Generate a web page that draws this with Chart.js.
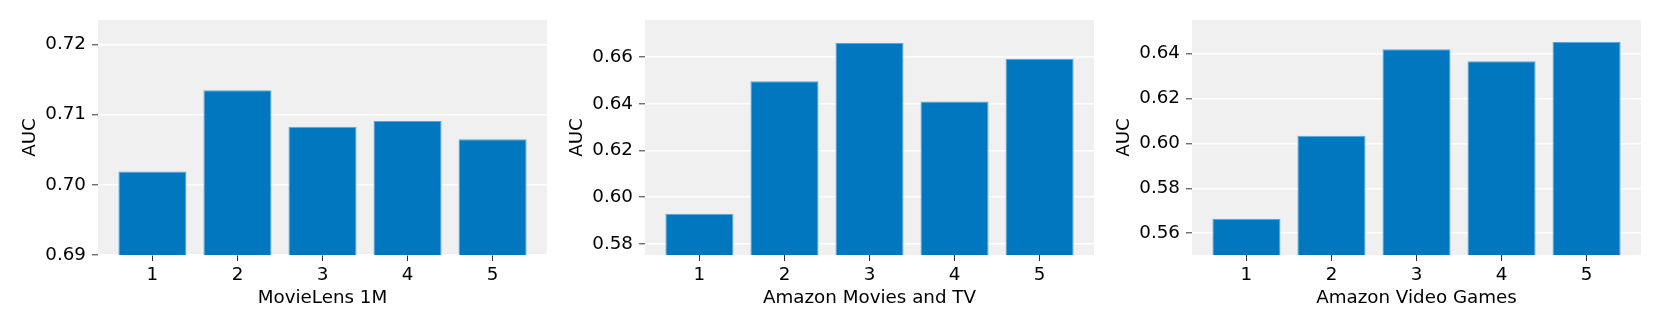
<!DOCTYPE html>
<html>
<head>
<meta charset="utf-8">
<script src="https://cdn.jsdelivr.net/npm/chart.js@4"></script>
<style>
  html, body { margin: 0; padding: 0; background: #fff; }
  #wrap { position: relative; width: 1661px; height: 332px; }
  .panel { position: absolute; top: 0; width: 547px; height: 332px; }
</style>
</head>
<body>
<div id="wrap">
  <div class="panel" style="left:0px"><canvas id="c1"></canvas></div>
  <div class="panel" style="left:547px"><canvas id="c2"></canvas></div>
  <div class="panel" style="left:1094px"><canvas id="c3"></canvas></div>
</div>
<script>
// data
const categories = [1, 2, 3, 4, 5];
const ml1m = [0.7019, 0.7135, 0.7083, 0.7091, 0.7065];
const moviesTv = [0.5929, 0.6497, 0.6660, 0.6410, 0.6593];
const videoGames = [0.5665, 0.6034, 0.6420, 0.6366, 0.6452];
const ml1mTicks = [0.69, 0.70, 0.71, 0.72];
const moviesTvTicks = [0.58, 0.60, 0.62, 0.64, 0.66];
const videoGamesTicks = [0.56, 0.58, 0.60, 0.62, 0.64];

const font = { family: "'DejaVu Sans', sans-serif", size: 18.3 };
Chart.defaults.font.family = font.family;
Chart.defaults.font.size = font.size;
Chart.defaults.color = '#000';

// grey plot background
const bgPlugin = {
  id: 'plotBg',
  beforeDraw(chart) {
    const a = chart.chartArea;
    chart.ctx.save();
    chart.ctx.fillStyle = '#f0f0f0';
    chart.ctx.fillRect(a.left, a.top, a.right - a.left, a.bottom - a.top);
    chart.ctx.restore();
  }
};

function makeChart(id, values, yTicks, yMin, yMax, xTitle) {
  const ctx = document.getElementById(id).getContext('2d');
  return new Chart(ctx, {
    type: 'bar',
    data: {
      datasets: [{
        data: categories.map((c, i) => ({ x: c, y: values[i] })),
        backgroundColor: '#0077be',
        borderColor: '#5aa6dc',
        borderWidth: 1,
        barPercentage: 0.8,
        categoryPercentage: 1.0
      }]
    },
    options: {
      responsive: true,
      maintainAspectRatio: false,
      animation: false,
      layout: { padding: { left: 0, right: 0, top: 20, bottom: 0 } },
      plugins: { legend: { display: false }, tooltip: { enabled: false } },
      scales: {
        x: {
          type: 'linear',
          min: 0.36,
          max: 5.64,
          offset: false,
          afterBuildTicks: s => { s.ticks = categories.map(v => ({ value: v })); },
          afterFit: s => { s.height = 77; },
          ticks: { padding: 3, font: font, maxRotation: 0, autoSkip: false, callback: v => String(v) },
          grid: { offset: false, drawOnChartArea: false, tickLength: 6, tickColor: '#333', tickWidth: 1 },
          border: { display: false },
          title: { display: true, text: xTitle, font: font, padding: { top: 0, bottom: 23 } }
        },
        y: {
          min: yMin,
          max: yMax,
          afterBuildTicks: s => { s.ticks = yTicks.map(v => ({ value: v })); },
          afterFit: s => { s.width = 98; },
          ticks: { padding: 6, font: font, callback: v => v.toFixed(2) },
          grid: { color: '#ffffff', lineWidth: 1.6, tickLength: 6, tickColor: '#333', tickWidth: 1 },
          border: { display: false },
          title: { display: true, text: 'AUC', font: font, padding: { top: 19, bottom: 0 } }
        }
      }
    },
    plugins: [bgPlugin]
  });
}

makeChart('c1', ml1m, ml1mTicks, 0.69, 0.7235, 'MovieLens 1M');
makeChart('c2', moviesTv, moviesTvTicks, 0.5752, 0.6759, 'Amazon Movies and TV');
makeChart('c3', videoGames, videoGamesTicks, 0.5503, 0.6550, 'Amazon Video Games');
</script>
</body>
</html>
